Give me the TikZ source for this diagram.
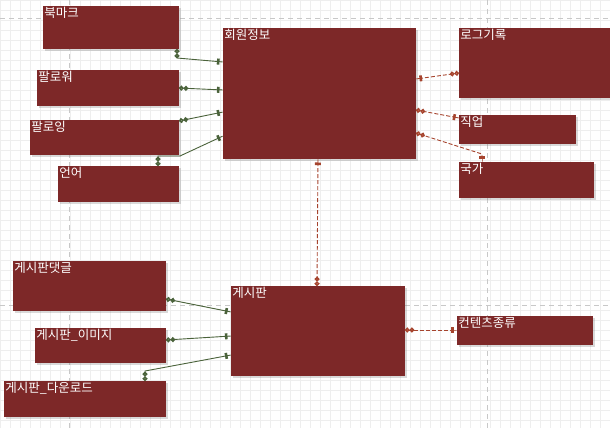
\documentclass[tikz,border=0pt]{standalone}
\usepackage{fontspec}
\usepackage{xcolor}
\usepackage{tikz}
\usetikzlibrary{arrows.meta,shadows,calc}
\newfontfamily\kr{Noto Sans CJK KR}
\definecolor{entred}{RGB}{125, 40, 40}
\definecolor{relgreen}{RGB}{74, 98, 58}
\definecolor{relbrown}{RGB}{166, 68, 46}
\definecolor{pagegray}{RGB}{200, 200, 200}
\definecolor{gridgray}{RGB}{238, 238, 238}

\tikzset{
  entity/.style={fill=entred, draw=none, anchor=north west, inner sep=0pt, outer sep=0pt,
    drop shadow={shadow xshift=2pt, shadow yshift=-2pt, opacity=0.3}},
  ename/.style={label={[anchor=north west, inner sep=1.2pt, text=white,
    font=\kr\fontsize{12.5}{14}\selectfont]north west:#1}},
  onemany/.style={arrows={{Rectangle[length=3.5pt,width=0.9pt] Bar[width=6pt,line width=2.6pt]}-{Circle[open,length=4.6pt,width=4.8pt,line width=1.5pt] Circle[open,length=4.6pt,width=4.8pt,line width=1.5pt]}}},
  ident/.style={relgreen, line width=0.9pt, onemany},
  nonident/.style={relbrown, line width=0.9pt, dash pattern=on 4pt off 2pt, onemany}
}

\begin{document}
\begin{tikzpicture}[x=1pt, y=-1pt]
  \useasboundingbox (0,0) rectangle (610,428);

  % background grid and page breaks
  \foreach \gx in {0,10,...,610}
    \draw[gridgray, line width=0.5pt] (\gx,0) -- (\gx,428);
  \foreach \gy in {0,10,...,430}
    \draw[gridgray, line width=0.5pt] (0,\gy) -- (610,\gy);
  \draw[pagegray, line width=0.8pt, dash pattern=on 5pt off 4pt]
    (0,18) -- (610,18) (0,305) -- (610,305)
    (69,0) -- (69,428) (487,0) -- (487,428);

  % member side
  \node[entity, minimum width=136pt, minimum height=43pt, ename=북마크] (bookmark) at (43,6) {};
  \node[entity, minimum width=142pt, minimum height=36pt, ename=팔로워] (follower) at (37,70) {};
  \node[entity, minimum width=149pt, minimum height=35pt, ename=팔로잉] (following) at (30,120) {};
  \node[entity, minimum width=121pt, minimum height=36pt, ename=언어] (language) at (58,166) {};
  \node[entity, minimum width=193pt, minimum height=131pt, ename=회원정보] (member) at (223,28) {};
  \node[entity, minimum width=152pt, minimum height=70pt, ename=로그기록] (loglist) at (459,28) {};
  \node[entity, minimum width=117pt, minimum height=29pt, ename=직업] (job) at (459,115) {};
  \node[entity, minimum width=135pt, minimum height=36pt, ename=국가] (nation) at (459,162) {};

  % board side
  \node[entity, minimum width=153pt, minimum height=50pt, ename=게시판댓글] (comment) at (13,261) {};
  \node[entity, minimum width=131pt, minimum height=35pt, ename=게시판\_이미지] (image) at (35,328) {};
  \node[entity, minimum width=162pt, minimum height=36pt, ename=게시판\_다운로드] (download) at (4,381) {};
  \node[entity, minimum width=174pt, minimum height=90pt, ename=게시판] (board) at (231,286) {};
  \node[entity, minimum width=136pt, minimum height=29pt, ename=컨텐츠종류] (content) at (457,316) {};

  % identifying relations
  \draw[ident] ($(member.north west)+(0,34)$) -- ($(bookmark.south east)+(-2,9)$) -- ($(bookmark.south east)+(-2,0)$);
  \draw[ident] ($(member.north west)+(0,62)$) -- ($(follower.north east)+(0,18)$);
  \draw[ident] ($(member.north west)+(0,84)$) -- ($(following.north east)+(0,1)$);
  \draw[ident] ($(member.north west)+(0,108)$) -- ($(language.north east)+(1,-10)$)
    -- ($(language.north east)+(-21,-10)$) -- ($(language.north east)+(-21,0)$);
  \draw[ident] ($(board.north west)+(0,26)$) -- ($(comment.north east)+(0,38)$);
  \draw[ident] ($(board.north west)+(0,50)$) -- ($(image.north east)+(0,12)$);
  \draw[ident] ($(board.north west)+(0,69)$) -- ($(download.north east)+(-21,-10)$) -- ($(download.north east)+(-21,0)$);

  % non-identifying relations
  \draw[nonident] ($(member.north east)+(0,51)$) -- ($(loglist.north west)+(0,45)$);
  \draw[nonident] ($(job.north west)+(0,3)$) -- ($(member.north east)+(0,82)$);
  \draw[nonident] ($(nation.north west)+(23,0)$) -- ($(nation.north west)+(23,-8)$) -- ($(member.north east)+(0,105)$);
  \draw[nonident] ($(member.south west)+(95,0)$) -- ($(board.north west)+(86,0)$);
  \draw[nonident] ($(content.north west)+(0,14)$) -- ($(board.north east)+(0,44)$);
\end{tikzpicture}
\end{document}
